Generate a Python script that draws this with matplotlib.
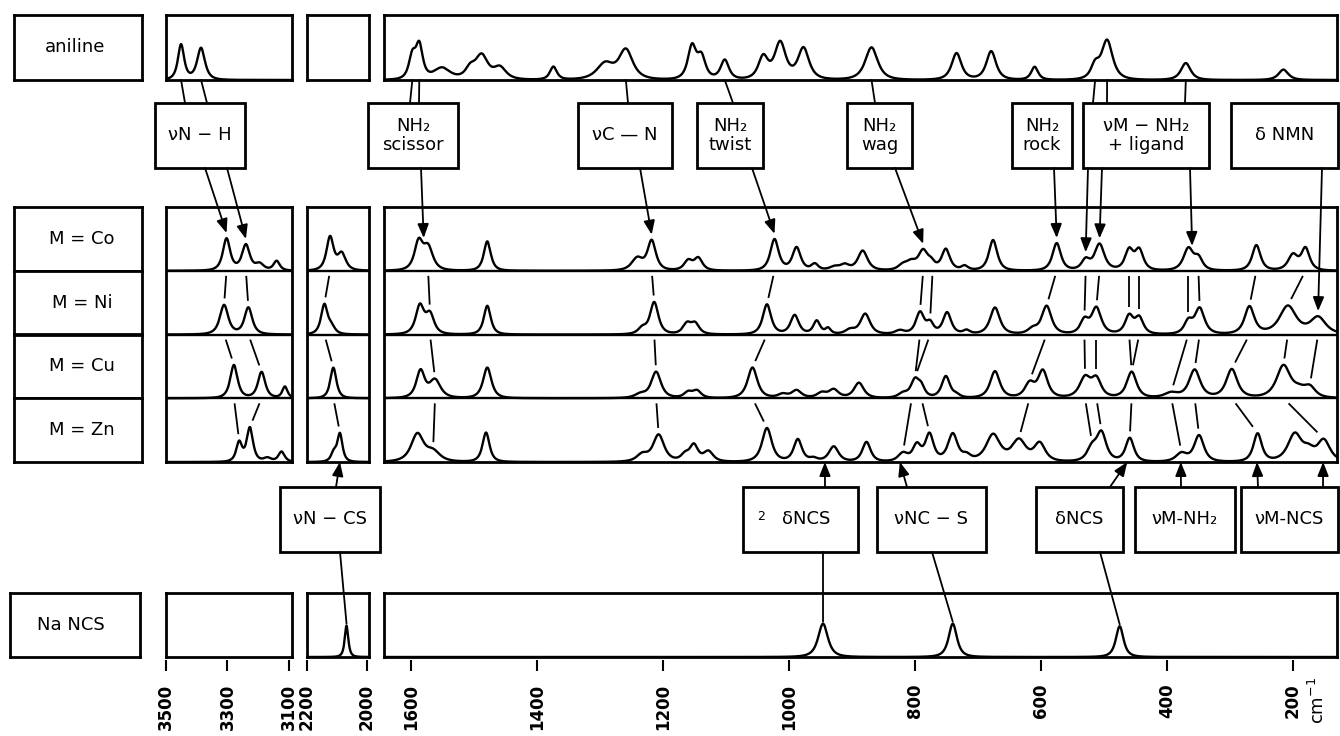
#!/usr/bin/env python3
"""Correlation diagram: IR bands of aniline, M(aniline)2(NCS)2 (M = Co, Ni, Cu, Zn) and NaNCS."""
import numpy as np
import matplotlib
matplotlib.use("Agg")
import matplotlib.pyplot as plt
from matplotlib.patches import Rectangle, ConnectionPatch

# ---- data ---------------------------------------------------------------
# panel windows in cm-1 (high -> low) and their tick marks
windows = [(3500, 3090), (2200, 1993), (1643, 130)]
ticks = [[3500, 3300, 3100], [2200, 2000], [1600, 1400, 1200, 1000, 800, 600, 400, 200]]
half_width = [14, 12, 7]          # default band half width per panel (cm-1)
pen = [1.0, 1.0, 1.3]             # hand-drawn broadening of the traces per panel

# bands: (position cm-1, height as fraction of the row[, half width cm-1]), one list per panel
aniline = [
    [(3451, .54, 12), (3386, .49, 15)],
    [],
    [(1598, .34, 5), (1587, .5, 5), (1551, .18, 12), (1506, .15, 7), (1488, .36, 9), (1459, .18, 9),
     (1374, .2, 5), (1292, .24, 12), (1259, .45, 10), (1154, .5, 6), (1139, .33, 6), (1102, .3, 6),
     (1041, .34, 7), (1014, .56, 8), (977, .48, 8), (869, .5, 9), (734, .41, 7), (679, .44, 7),
     (610, .2, 5), (514, .2, 6), (495, .6, 8), (370, .26, 7), (215, .16, 7)],
]
co = [
    [(3303, .5, 14), (3240, .4, 15), (3195, .1, 16), (3140, .15, 12)],
    [(2123, .52, 14), (2084, .26, 16)],
    [(1588, .43, 6), (1573, .35, 7), (1479, .46, 5), (1241, .19, 8), (1218, .46, 6), (1160, .15, 6),
     (1144, .19, 6), (1023, .49, 6), (988, .36, 6), (959, .1, 5), (927, .06, 8), (911, .08, 6),
     (883, .31, 7), (819, .08, 7), (806, .11, 7), (787, .3, 7), (774, .09, 5), (751, .33, 6),
     (721, .07, 5), (676, .48, 6), (575, .43, 6), (529, .16, 6), (507, .41, 7), (460, .31, 6),
     (444, .31, 6), (366, .34, 7), (350, .18, 6), (258, .4, 6), (200, .24, 7), (180, .34, 6)],
]
ni = [
    [(3311, .46, 16), (3232, .42, 15)],
    [(2142, .46, 13), (2118, .1, 14)],
    [(1586, .44, 6), (1570, .3, 6), (1479, .45, 5), (1233, .09, 6), (1214, .5, 6), (1162, .16, 6),
     (1149, .16, 6), (1035, .47, 6), (991, .3, 6), (956, .21, 5), (938, .09, 4), (903, .07, 7),
     (879, .32, 7), (824, .06, 7), (792, .34, 6), (776, .16, 5), (749, .34, 6), (718, .06, 5),
     (673, .42, 7), (613, .08, 7), (591, .44, 7), (531, .21, 6), (512, .41, 7), (460, .28, 6),
     (444, .25, 6), (366, .19, 6), (348, .4, 7), (269, .43, 7), (208, .44, 12), (160, .26, 11)],
]
cu = [
    [(3279, .52, 14), (3189, .41, 14), (3113, .18, 10)],
    [(2112, .48, 12)],
    [(1585, .42, 6), (1562, .28, 8), (1479, .48, 6), (1236, .06, 8), (1211, .41, 7), (1160, .09, 6),
     (1146, .11, 6), (1058, .48, 7), (1010, .06, 7), (988, .12, 7), (948, .08, 7), (929, .13, 7),
     (889, .24, 7), (819, .07, 7), (800, .27, 6), (790, .15, 5), (751, .34, 6), (734, .04, 5),
     (673, .42, 7), (618, .22, 7), (597, .42, 7), (530, .31, 8), (512, .28, 7), (456, .41, 7),
     (393, .08, 10), (356, .44, 8), (297, .45, 8), (215, .5, 10), (190, .1, 10), (173, .15, 8)],
]
zn = [
    [(3262, .3, 11), (3227, .53, 12), (3170, .06, 15), (3124, .16, 12)],
    [(2110, .14, 11), (2090, .43, 10)],
    [(1590, .43, 9), (1565, .15, 10), (1481, .46, 5), (1233, .11, 8), (1207, .42, 8), (1165, .1, 6),
     (1151, .25, 6), (1128, .16, 7), (1035, .53, 7), (986, .35, 6), (961, .05, 6), (929, .24, 7),
     (877, .31, 6), (819, .13, 7), (797, .25, 6), (777, .42, 6), (740, .43, 7), (718, .08, 6),
     (676, .42, 10), (635, .33, 10), (602, .28, 8), (519, .2, 7), (504, .44, 7), (459, .37, 6),
     (377, .13, 8), (349, .41, 7), (256, .44, 6), (197, .43, 10), (175, .14, 8), (151, .33, 9)],
]
nancs = [
    [],
    [(2068, .49, 7)],
    [(946, .52, 7), (740, .52, 6), (475, .48, 5.5)],
]

complex_names = ["Co", "Ni", "Cu", "Zn"]
complex_bands = [co, ni, cu, zn]

# band correlations drawn in the lower row: (band in row above, band in this row)
links_ni = [(3303, 3311), (3240, 3232), (2123, 2142), (1573, 1570), (1218, 1214), (1023, 1035),
            (787, 792), (772, 776), (575, 591), (529, 531), (507, 512), (460, 460), (444, 444),
            (366, 366), (350, 348), (258, 269), (180, 208)]
links_cu = [(3311, 3279), (3232, 3189), (2142, 2112), (1570, 1562), (1214, 1211), (1035, 1058),
            (792, 800), (776, 800), (591, 618), (531, 530), (512, 512), (460, 456), (444, 456),
            (366, 393), (348, 356), (269, 297), (208, 215), (160, 173)]
links_zn = [(3279, 3262), (3189, 3227), (2112, 2090), (1562, 1565), (1211, 1207), (1058, 1035),
            (805, 819), (790, 777), (618, 635), (530, 519), (512, 504), (456, 459), (393, 377),
            (356, 349), (297, 256), (215, 151)]
links = {"Ni": links_ni, "Cu": links_cu, "Zn": links_zn}

# assignments above the complexes: label, aniline bands, complex bands pointed at
top_labels = ["νN − H", "NH₂\nscissor", "νC — N", "NH₂\ntwist", "NH₂\nwag", "NH₂\nrock",
              "νM − NH₂\n+ ligand", "δ NMN"]
top_aniline = [[3451, 3386], [1598, 1587], [1259], [1102], [869], [], [514, 495, 370], []]
top_complex = [[3303, 3240], [1580], [1218], [1023], [787], [575], [529, 507, 360], [160]]
top_row = ["Co", "Co", "Co", "Co", "Co", "Co", "Co", "Ni"]

# assignments below the complexes: label, complex bands, NaNCS bands
bottom_labels = ["νN − CS", "2 δNCS", "νNC − S", "δNCS", "νM-NH₂", "νM-NCS"]
bottom_complex = [[2090], [943], [824], [463], [378], [257, 152]]
bottom_nancs = [[2068], [946], [740], [475], [], []]

# ---- layout (pixels of a 1340 x 736 canvas) -----------------------------
W, H = 1340, 736
cols = [(166, 292), (307, 369), (384, 1337)]
top_boxes = [(155, 245), (368, 458), (578, 672), (697, 763), (847, 912), (1012, 1072),
             (1083, 1209), (1231, 1338)]
top_up_x = [[185, 207], [410, 419], [628], [733], [875], [], [1093, 1107, 1185], []]
top_down_x = [[205, 227], [421], [640], [752], [895], [1054], [1088, 1102, 1190], [1322]]
bottom_boxes = [(280, 380), (743, 858), (877, 986), (1036, 1123), (1135, 1235), (1241, 1338)]
bottom_up_x = [[336], [825], [907], [1110], [1181], [1258, 1323]]
bottom_down_x = [[340], [823], [932], [1100], [], []]

LW_BOX, LW_SPEC, LW_LINK = 2.0, 1.7, 1.3
FS = 13


def frac(x0, y0, x1, y1):
    return [x0 / W, 1 - y1 / H, (x1 - x0) / W, (y1 - y0) / H]


def fpt(x, y):
    return (x / W, 1 - y / H)


def col_of(w):
    return 0 if w > 2600 else (1 if w > 1800 else 2)


def spec(peaks, w, c):
    y = np.zeros_like(w, dtype=float)
    for p in peaks:
        g = (p[2] if len(p) > 2 else half_width[c]) * pen[c]
        y += p[1] / (1 + 0.5874 * ((w - p[0]) / g) ** 2) ** 1.5
    return y


def frame(ax, xlim, ylim):
    ax.set_xlim(*xlim)
    ax.set_ylim(*ylim)
    ax.set_xticks([])
    ax.set_yticks([])
    for s in ax.spines.values():
        s.set_linewidth(LW_BOX)


fig = plt.figure(figsize=(W / 100, H / 100), dpi=100)

# label boxes on the left
for text, (x0, y0, x1, y1), xc in [("aniline", (14, 15, 142, 80), 75), ("Na NCS", (10, 593, 140, 657), 71)]:
    ax = fig.add_axes(frac(x0, y0, x1, y1))
    frame(ax, (0, 1), (0, 1))
    fig.text(*fpt(xc, (y0 + y1) / 2), text, ha="center", va="center", fontsize=FS)
row_h = (462 - 207) / 4
for i, name in enumerate(complex_names):
    y0 = 207 + i * row_h
    ax = fig.add_axes(frac(14, y0, 142, y0 + row_h))
    frame(ax, (0, 1), (0, 1))
    fig.text(*fpt(82, y0 + row_h / 2), f"M = {name}", ha="center", va="center", fontsize=FS)

ax_an, ax_m, ax_na = [], [], []
for c, (x0, x1) in enumerate(cols):
    grid = np.linspace(windows[c][1], windows[c][0], 2500)

    a = fig.add_axes(frac(x0, 15, x1, 80))
    frame(a, windows[c], (0, 1))
    if aniline[c]:
        a.plot(grid, spec(aniline[c], grid, c), color="k", lw=LW_SPEC)
    ax_an.append(a)

    m = fig.add_axes(frac(x0, 207, x1, 462))
    frame(m, windows[c], (0, 4))
    for k in (1, 2, 3):
        m.axhline(k, color="k", lw=1.7)
    for r, bands in enumerate(complex_bands):
        off = 3 - r
        if bands[c]:
            m.plot(grid, off + spec(bands[c], grid, c), color="k", lw=LW_SPEC)
    ax_m.append(m)

    n = fig.add_axes(frac(x0, 593, x1, 657))
    frame(n, windows[c], (0, 1))
    if nancs[c]:
        n.plot(grid, spec(nancs[c], grid, c), color="k", lw=LW_SPEC)
    ax_na.append(n)

    # wavenumber scale: short ticks hanging below the NaNCS row
    t = fig.add_axes(frac(x0, 659, x1, 660))
    t.set_xlim(*windows[c])
    t.set_yticks([])
    for s in t.spines.values():
        s.set_visible(False)
    t.set_xticks(ticks[c])
    t.set_xticklabels([str(v) for v in ticks[c]], rotation=90, fontsize=12, fontweight="bold")
    t.tick_params(axis="x", direction="out", length=8, width=1.5, pad=9)
    t.patch.set_alpha(0)

fig.text(*fpt(1318, 700), "cm$^{-1}$", rotation=90, ha="center", va="center", fontsize=FS)


def value(row, w):
    c = col_of(w)
    bands = complex_bands[complex_names.index(row)][c]
    return spec(bands, np.array([w], dtype=float), c)[0]


# correlation segments inside each lower row
for row, pairs in links.items():
    off = 3 - complex_names.index(row)
    for wu, wl in pairs:
        m = ax_m[col_of(wl)]
        yp = off + value(row, wl)
        ytop = off + 1
        ys, ye = ytop - 0.08, yp + 0.1
        xs = wl + (wu - wl) * (ys - yp) / (ytop - yp)
        xe = wl + (wu - wl) * (ye - yp) / (ytop - yp)
        m.plot([xs, xe], [ys, ye], color="k", lw=LW_LINK, solid_capstyle="butt")

HEAD = "-|>,head_length=0.7,head_width=0.28"


def connect(start, w, y, ax, head):
    cp = ConnectionPatch(xyA=fpt(*start), coordsA="figure fraction", xyB=(w, y), coordsB="data",
                         axesB=ax, arrowstyle=HEAD if head else "-", mutation_scale=12,
                         color="k", lw=LW_LINK, shrinkA=0, shrinkB=0)
    fig.add_artist(cp)


def box(x0, x1, y0, y1):
    fig.add_artist(Rectangle(fpt(x0, y1), (x1 - x0) / W, (y1 - y0) / H, transform=fig.transFigure,
                             fill=False, lw=LW_BOX, ec="k"))


for i, label in enumerate(top_labels):
    x0, x1 = top_boxes[i]
    box(x0, x1, 103, 168)
    fig.text(*fpt((x0 + x1) / 2, 135.5), label, ha="center", va="center", fontsize=FS, linespacing=1.05)
    for x, w in zip(top_up_x[i], top_aniline[i]):
        connect((x, 103), w, 0, ax_an[col_of(w)], False)
    off = 3 - complex_names.index(top_row[i])
    for x, w in zip(top_down_x[i], top_complex[i]):
        connect((x, 168), w, off + value(top_row[i], w) + 0.08, ax_m[col_of(w)], True)

for i, label in enumerate(bottom_labels):
    x0, x1 = bottom_boxes[i]
    box(x0, x1, 487, 552)
    if label.startswith("2 "):
        fig.text(*fpt((x0 + x1) / 2 + 6, 519.5), label[2:], ha="center", va="center", fontsize=FS)
        fig.text(*fpt(x0 + 18, 517), "2", ha="center", va="center", fontsize=9)
    else:
        fig.text(*fpt((x0 + x1) / 2, 519.5), label, ha="center", va="center", fontsize=FS)
    for x, w in zip(bottom_up_x[i], bottom_complex[i]):
        connect((x, 487), w, 0, ax_m[col_of(w)], True)
    for x, w in zip(bottom_down_x[i], bottom_nancs[i]):
        c = col_of(w)
        yv = spec(nancs[c], np.array([w], dtype=float), c)[0]
        connect((x, 552), w, yv + 0.03, ax_na[c], False)

fig.savefig("out.png", dpi=100)
